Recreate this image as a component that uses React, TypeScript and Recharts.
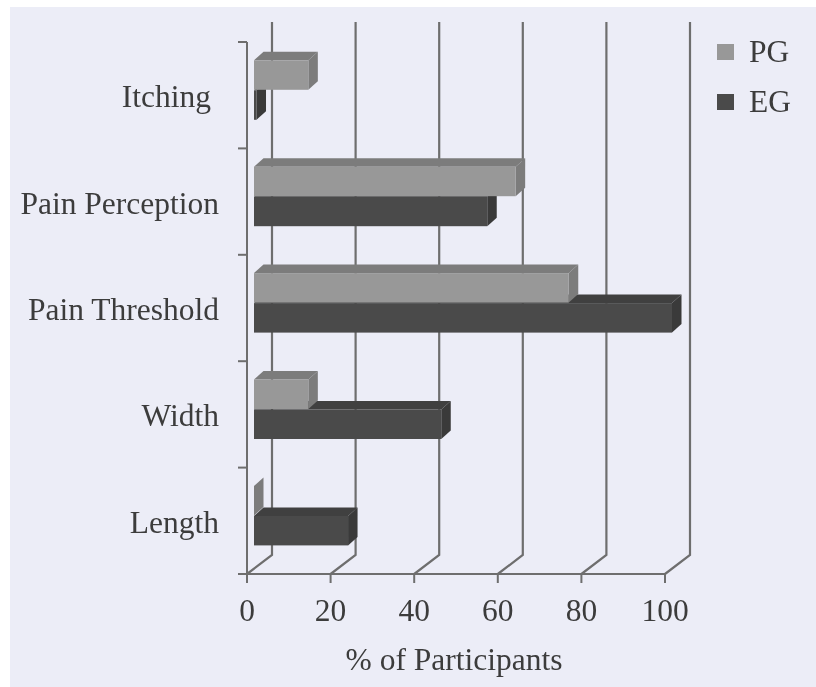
import { BarChart, Bar, XAxis, YAxis, CartesianGrid, Legend } from "recharts";

const CATEGORIES = ["Itching", "Pain Perception", "Pain Threshold", "Width", "Length"];
const PG_VALUES = [13, 62.6, 75.3, 13, 0];
const EG_VALUES = [0.6, 55.8, 100, 44.8, 22.5];
const X_TICKS = [0, 20, 40, 60, 80, 100];
const LEGEND_ITEMS = [
  { name: "PG", color: "#989898" },
  { name: "EG", color: "#4a4a4a" },
];

const data = CATEGORIES.map((name, i) => ({ name, PG: PG_VALUES[i], EG: EG_VALUES[i] }));

const FONT = "'Liberation Serif', serif";
const FONT_SIZE = 31.5;
const TEXT = "#3c3c3c";
const LINE = "#6e6e6e";
const BAND = (574 - 42) / CATEGORIES.length;

// 3D look of the old spreadsheet chart: front face + top + right side
function make3dBar(front: string, top: string, side: string, shiftY: number) {
  return (props: any) => {
    const x = props.x + 7;
    const y = props.y + shiftY;
    const w = props.width;
    const h = props.height;
    const dx = 9.5;
    const dy = 8.5;
    return (
      <g>
        <polygon points={`${x},${y} ${x + dx},${y - dy} ${x + w + dx},${y - dy} ${x + w},${y}`} fill={top} />
        <polygon points={`${x + w},${y} ${x + w + dx},${y - dy} ${x + w + dx},${y + h - dy} ${x + w},${y + h}`} fill={side} />
        <rect x={x} y={y} width={w} height={h} fill={front} />
      </g>
    );
  };
}

// back wall line + floor diagonal for each x tick
function wallLine(props: any) {
  const { x1, y1, y2 } = props;
  return (
    <path
      key={props.key ?? x1}
      d={`M${x1} ${y2} L${x1 + 25} ${y2 - 19} L${x1 + 25} ${y1 - 20}`}
      fill="none"
      stroke={LINE}
      strokeWidth={2.2}
    />
  );
}

function CategoryTick(props: any) {
  const { y, payload, index } = props;
  // "Itching" sits a little left of the other labels in the original
  const right = payload.value === "Itching" ? 211 : 219;
  return (
    <g>
      <line x1={238} x2={247} y1={y + BAND / 2} y2={y + BAND / 2} stroke={LINE} strokeWidth={2} />
      {index === 0 && <line x1={238} x2={247} y1={y - BAND / 2} y2={y - BAND / 2} stroke={LINE} strokeWidth={2} />}
      <text x={right} y={y + 2} dy={10} textAnchor="end" fontFamily={FONT} fontSize={FONT_SIZE} fill={TEXT}>
        {payload.value}
      </text>
    </g>
  );
}

function LegendBox() {
  return (
    <div style={{ fontFamily: FONT, fontSize: FONT_SIZE, color: TEXT }}>
      {LEGEND_ITEMS.map(item => (
        <div key={item.name} style={{ display: "flex", alignItems: "center", height: 50 }}>
          <div style={{ width: 17, height: 16, background: item.color, marginRight: 15 }} />
          <span>{item.name}</span>
        </div>
      ))}
    </div>
  );
}

export default function App() {
  return (
    <div style={{ position: "absolute", left: 0, top: 0, width: 816, height: 687, background: "#fff", overflow: "hidden" }}>
      <div style={{ position: "absolute", left: 10, top: 7, right: 0, bottom: 0, background: "#ecedf7" }} />
      <div style={{ position: "absolute", left: 0, top: 0, filter: "blur(0.6px)" }}>
        <BarChart
          width={816}
          height={687}
          data={data}
          layout="vertical"
          margin={{ top: 42, right: 151, bottom: 53, left: 37 }}
          barSize={29.5}
          barGap={0}
        >
          <CartesianGrid horizontal={false} vertical={wallLine} />
          <XAxis
            type="number"
            domain={[0, 100]}
            ticks={X_TICKS}
            height={60}
            interval={0}
            tick={{ fontFamily: FONT, fontSize: FONT_SIZE, fill: TEXT }}
            tickSize={9}
            tickMargin={16}
            stroke={LINE}
            strokeWidth={2}
            label={{ value: "% of Participants", position: "insideBottom", offset: -36, dx: -2, fontFamily: FONT, fontSize: FONT_SIZE, fill: TEXT }}
          />
          <YAxis
            type="category"
            dataKey="name"
            width={210}
            interval={0}
            tick={CategoryTick}
            tickLine={false}
            stroke={LINE}
            strokeWidth={2}
          />
          <Legend
            layout="horizontal"
            verticalAlign="middle"
            content={LegendBox}
            wrapperStyle={{ left: 717, top: 27, width: 90, height: 100 }}
          />
          {/* EG is listed first so PG paints over its top face; shifts put each in its own slot */}
          <Bar dataKey="EG" isAnimationActive={false} shape={make3dBar("#4a4a4a", "#404040", "#3a3a3a", 24.3)} />
          <Bar dataKey="PG" isAnimationActive={false} shape={make3dBar("#989898", "#7c7c7c", "#7c7c7c", -35.2)} />
        </BarChart>
      </div>
    </div>
  );
}
